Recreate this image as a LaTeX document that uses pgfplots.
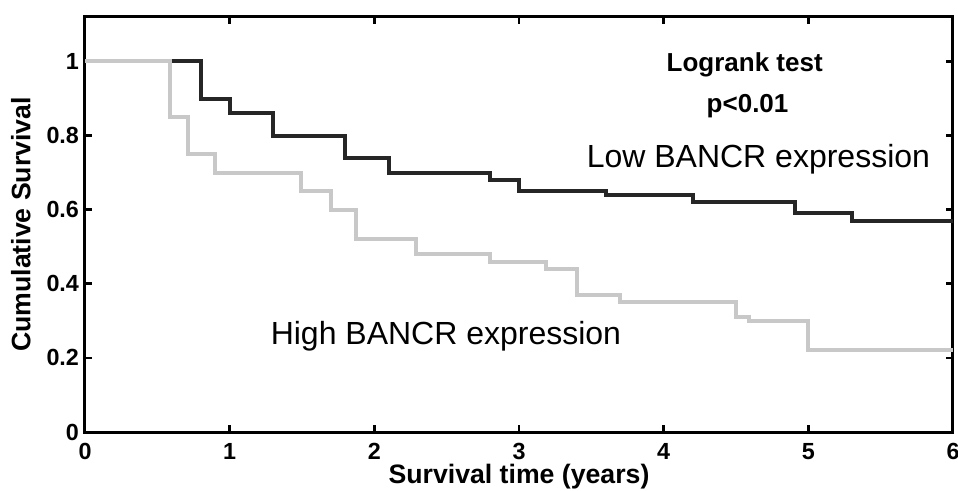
\documentclass[border=0pt]{standalone}
\usepackage{pgfplots}
\pgfplotsset{compat=1.18}
\usepackage{fontspec}
\setmainfont{Liberation Sans}
\definecolor{lowcol}{HTML}{262626}
\definecolor{highcol}{HTML}{C8C8C8}
\begin{document}
\begin{tikzpicture}
\useasboundingbox (-63.75pt,-43.5pt) rectangle (654.75pt,324pt);
\begin{axis}[
  scale only axis,
  width=651pt, height=311.25pt,
  xmin=0, xmax=6, ymin=0, ymax=1.12,
  xtick={0,1,2,3,4,5,6},
  ytick={0,0.2,0.4,0.6,0.8,1},
  yticklabels={0,0.2,0.4,0.6,0.8,1},
  axis line style={line width=2.25pt},
  major tick style={line width=2pt, black},
  major tick length=5.25pt,
  tick align=inside,
  /pgf/number format/assume math mode=true,
  ticklabel style={font=\fontsize{17.5}{20}\selectfont\bfseries},
  xticklabel style={yshift=-5pt},
  yticklabel style={xshift=-1pt},
  xlabel={Survival time (years)},
  ylabel={Cumulative Survival},
  label style={font=\fontsize{20}{23}\selectfont\bfseries},
  xlabel style={yshift=3.5pt},
  ylabel style={yshift=5pt},
]
\addplot[const plot, highcol, line width=3pt] coordinates {
  (0,1) (0.59,0.85) (0.71,0.75) (0.9,0.70) (1.49,0.65) (1.7,0.60)
  (1.87,0.52) (2.29,0.48) (2.8,0.46) (3.19,0.44) (3.4,0.37) (3.7,0.35)
  (4.5,0.31) (4.59,0.30) (5.0,0.22) (6,0.22)};
\addplot[const plot, lowcol, line width=3pt] coordinates {
  (0.6,1) (0.8,0.9) (1.0,0.86) (1.3,0.8) (1.8,0.74) (2.1,0.70)
  (2.8,0.68) (3.0,0.65) (3.6,0.64) (4.2,0.62) (4.91,0.59) (5.3,0.57) (6,0.57)};
\node[anchor=base, font=\fontsize{19.5}{22}\selectfont\bfseries] at (axis cs:4.56,0.972) {Logrank test};
\node[anchor=base, font=\fontsize{19.5}{22}\selectfont\bfseries] at (axis cs:4.58,0.861) {p<0.01};
\node[anchor=base, font=\fontsize{24}{28}\selectfont] at (axis cs:4.655,0.715) {Low BANCR expression};
\node[anchor=base, font=\fontsize{24}{28}\selectfont] at (axis cs:2.495,0.235) {High BANCR expression};
\end{axis}
\end{tikzpicture}
\end{document}
